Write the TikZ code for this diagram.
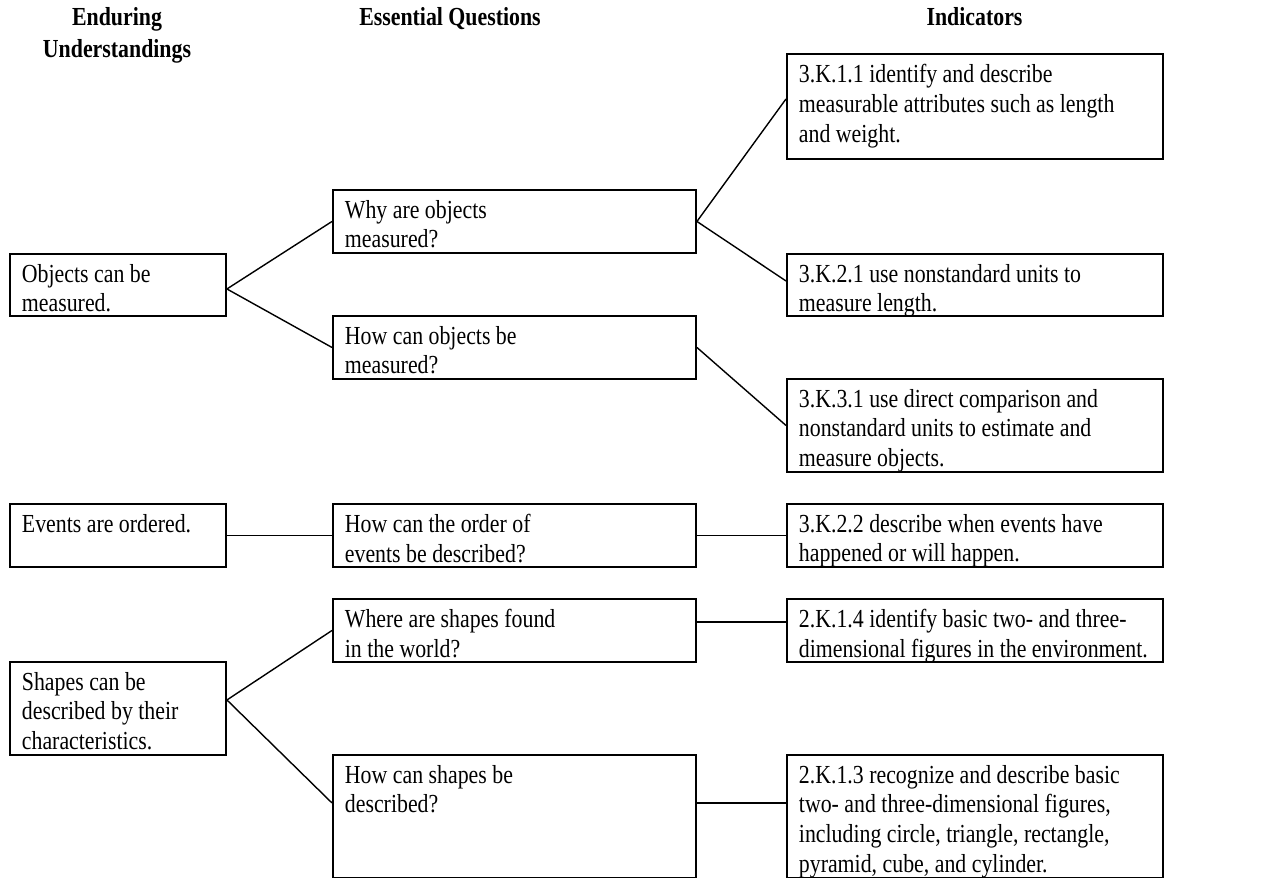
\documentclass[tikz,border=0pt]{standalone}
\usepackage{fontspec}
\setmainfont[FakeStretch=0.84]{Liberation Serif}
\newcommand{\cell}[3]{\parbox[t][\dimexpr#2cm-11.4pt\relax][t]{\dimexpr#1cm-13.6pt\relax}{\raggedright#3}}
\tikzset{
  box/.style={draw, line width=1.1pt, anchor=north west, inner xsep=6.8pt, inner ysep=5.7pt, font=\fontsize{14.8}{17}\selectfont},
  head/.style={font=\fontsize{14.8}{18}\selectfont\bfseries, align=center, anchor=north, inner sep=0pt},
  link/.style={line width=0.8pt}
}
\begin{document}
\begin{tikzpicture}
\useasboundingbox (0,0) rectangle (25.46,-17.56);
\node[head] (h1) at (2.34,-0.14) {Enduring\\Understandings};
\node[head] (h2) at (9.0,-0.14) {Essential Questions};
\node[head] (h3) at (19.49,-0.14) {Indicators};
\node[box] (eu1) at (0.18,-5.06) {\cell{4.32}{1.24}{Objects can be\\measured.}};
\node[box] (eu2) at (0.18,-10.06) {\cell{4.32}{1.26}{Events are ordered.}};
\node[box] (eu3) at (0.18,-13.22) {\cell{4.32}{1.86}{Shapes can be\\described by their\\characteristics.}};
\node[box] (eq1) at (6.64,-3.78) {\cell{7.26}{1.26}{Why are objects\\measured?}};
\node[box] (eq2) at (6.64,-6.30) {\cell{7.26}{1.26}{How can objects be\\measured?}};
\node[box] (eq3) at (6.64,-10.06) {\cell{7.26}{1.26}{How can the order of\\events be described?}};
\node[box] (eq4) at (6.64,-11.96) {\cell{7.26}{1.26}{Where are shapes found\\in the world?}};
\node[box] (eq5) at (6.64,-15.08) {\cell{7.26}{2.46}{How can shapes be\\described?}};
\node[box] (ind1) at (15.72,-1.06) {\cell{7.52}{2.10}{3.K.1.1 identify and describe\\measurable attributes such as length\\and weight.}};
\node[box] (ind2) at (15.72,-5.06) {\cell{7.52}{1.24}{3.K.2.1 use nonstandard units to\\measure length.}};
\node[box] (ind3) at (15.72,-7.56) {\cell{7.52}{1.86}{3.K.3.1 use direct comparison and\\nonstandard units to estimate and\\measure objects.}};
\node[box] (ind4) at (15.72,-10.06) {\cell{7.52}{1.26}{3.K.2.2 describe when events have\\happened or will happen.}};
\node[box] (ind5) at (15.72,-11.96) {\cell{7.52}{1.26}{2.K.1.4 identify basic two- and three-\\dimensional figures in the environment.}};
\node[box] (ind6) at (15.72,-15.08) {\cell{7.52}{2.46}{2.K.1.3 recognize and describe basic\\two- and three-dimensional figures,\\including circle, triangle, rectangle,\\pyramid, cube, and cylinder.}};
\draw[link] ([yshift=-0.08cm]eu1.east) -- (eq1.west);
\draw[link] ([yshift=-0.08cm]eu1.east) -- (eq2.west);
\draw[link] (eq1.east) -- ([yshift=0.15cm]ind1.west);
\draw[link] (eq1.east) -- ([yshift=0.08cm]ind2.west);
\draw[link] (eq2.east) -- (ind3.west);
\draw[link] (eu2.east) -- (eq3.west);
\draw[link] (eq3.east) -- (ind4.west);
\draw[link] ([yshift=0.17cm]eu3.east) -- (eq4.west);
\draw[link] ([yshift=0.17cm]eu3.east) -- ([yshift=0.27cm]eq5.west);
\draw[link] ([yshift=0.17cm]eq4.east) -- ([yshift=0.17cm]ind5.west);
\draw[link] ([yshift=0.27cm]eq5.east) -- ([yshift=0.27cm]ind6.west);
\end{tikzpicture}
\end{document}
